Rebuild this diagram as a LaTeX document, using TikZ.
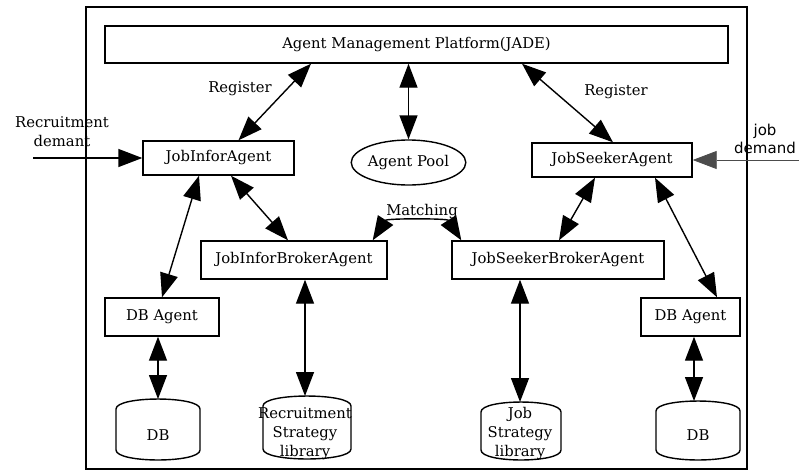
\documentclass[tikz,border=0pt]{standalone}
\usepackage{fontspec}
\setmainfont{DejaVu Serif}
\newfontfamily\labsans{DejaVu Sans}
\usetikzlibrary{arrows.meta,shapes.geometric}
\newcommand\dgfont{\fontsize{14.8}{19}\selectfont}
\begin{document}
\begin{tikzpicture}[x=1pt,y=-1pt,
  box/.style={draw, line width=1.4pt, rectangle, inner sep=0pt, font=\dgfont},
  pool/.style={draw, line width=1.4pt, ellipse, inner sep=0pt, font=\dgfont},
  lab/.style={font=\dgfont, align=center, inner sep=0pt},
  barrel/.style={line width=1.4pt},
  tipb/.style={line width=1.4pt, {Triangle[length=24pt,width=18pt]}-{Triangle[length=24pt,width=18pt]}},
  tipe/.style={line width=1.4pt, -{Triangle[length=24pt,width=18pt]}}]
\useasboundingbox (0,0) rectangle (799,471);
% frame
\draw[line width=1.4pt] (86,7) rectangle (747,469);
% boxes
\node[box, minimum width=623, minimum height=37] (amp) at (416.5,44.5) {Agent Management Platform(JADE)};
\node[box, minimum width=151, minimum height=34] (jia) at (218.5,158) {JobInforAgent};
\node[pool, minimum width=103, minimum height=45] (pool) at (408.5,162.5) {Agent Pool};
\node[box, minimum width=160, minimum height=34] (jsa) at (612,160) {JobSeekerAgent};
\node[box, minimum width=186, minimum height=38] (jib) at (294,260) {JobInforBrokerAgent};
\node[box, minimum width=212, minimum height=38] (jsb) at (558,260) {JobSeekerBrokerAgent};
\node[box, minimum width=114, minimum height=38] (dba1) at (162,317) {DB Agent};
\node[box, minimum width=99, minimum height=38] (dba2) at (690.5,317) {DB Agent};
% barrels
\draw[barrel] (116,409) .. controls (116,395.7) and (200,395.7) .. (200,409) -- (200,450) .. controls (200,463.3) and (116,463.3) .. (116,450) -- cycle;
\coordinate (db1) at (158,399);
\node[lab] (db1t) at (158,435) {DB};
\draw[barrel] (263,406) .. controls (263,392.7) and (351,392.7) .. (351,406) -- (351,449) .. controls (351,462.3) and (263,462.3) .. (263,449) -- cycle;
\coordinate (rsl) at (305,396);
\node[lab] (rslt) at (305,434) {Recruitment\\Strategy\\library};
\draw[barrel] (481,412) .. controls (481,398.7) and (561,398.7) .. (561,412) -- (561,450) .. controls (561,463.3) and (481,463.3) .. (481,450) -- cycle;
\coordinate (jsl) at (520,402);
\node[lab] (jslt) at (520,434) {Job\\Strategy\\library};
\draw[barrel] (656,411) .. controls (656,397.7) and (740,397.7) .. (740,411) -- (740,450) .. controls (740,463.3) and (656,463.3) .. (656,450) -- cycle;
\coordinate (db2) at (694,401);
\node[lab] (db2t) at (698,435) {DB};
% connectors
\draw[tipb] ([xshift=-105.5]amp.south) -- ([xshift=20]jia.north);
\draw[tipb] ([xshift=105.5]amp.south) -- ([xshift=1]jsa.north);
\draw[tipb] (pool.north |- amp.south) -- (pool.north);
\draw[tipb] ([xshift=-19.5]jia.south) -- (dba1.north);
\draw[tipb] ([xshift=12.5]jia.south) -- ([xshift=-6]jib.north);
\draw[tipb] ([xshift=-17]jsa.south) -- ([xshift=1]jsb.north);
\draw[tipb] ([xshift=43]jsa.south) -- ([xshift=26.5]dba2.north);
\draw[tipb] ([xshift=-15]jib.north east) .. controls +(14,-22) and +(-14,-22) .. ([xshift=10]jsb.north west);
\draw[tipb] ([xshift=11]jib.south) -- (rsl);
\draw[tipb] ([xshift=-38]jsb.south) -- (jsl);
\draw[tipb] ([xshift=-4]dba1.south) -- (db1);
\draw[tipb] ([xshift=3.5]dba2.south) -- (db2);
\coordinate (rdin) at (33,158);
\draw[tipe] (rdin) -- (jia.west);
\coordinate (jdin) at (799,160);
\draw[line width=0.8pt, draw=black!70, -{Triangle[length=24pt,width=18pt]}] (jdin) -- (jsa.east);
% labels
\node[lab] (reg1) at (240,89) {Register};
\node[lab] (reg2) at (616,92) {Register};
\node[lab] (match) at (422,212) {Matching};
\node[lab] (rd) at (62,132) {Recruitment\\demant};
\node[lab, font=\labsans\fontsize{15}{18}\selectfont] (jd) at (765,139) {job\\demand};
\end{tikzpicture}
\end{document}
